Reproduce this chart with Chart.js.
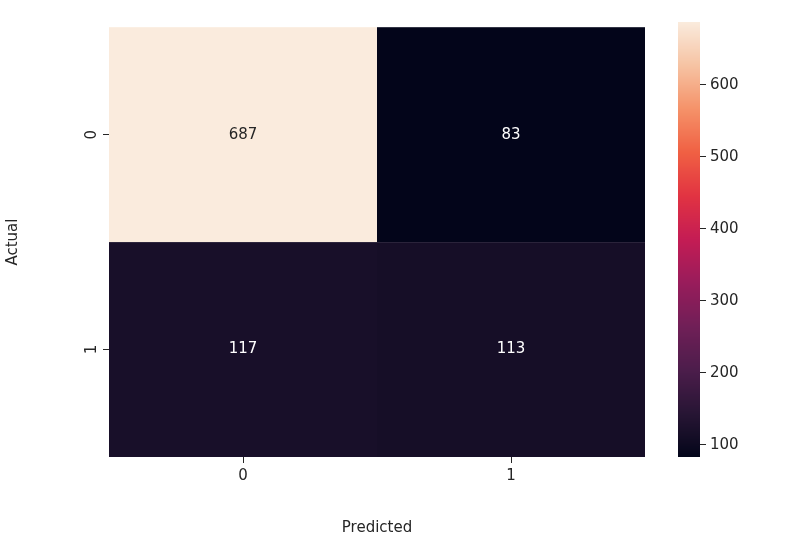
<!DOCTYPE html>
<html><head><meta charset="utf-8">
<script src="https://cdn.jsdelivr.net/npm/chart.js@4.4.0/dist/chart.umd.min.js"></script>
<style>
body{margin:0;background:#fff}
#wrap{position:relative;width:792px;height:541px}
canvas{position:absolute;left:0;top:0}
</style></head><body>
<div id="wrap"><canvas id="heat" width="792" height="541"></canvas><canvas id="bar" width="792" height="541"></canvas></div>
<script>
const predictedLabels = ['0', '1'];
const actualLabels = ['0', '1'];
const counts = [[687, 83], [117, 113]];
const barTicks = [100, 200, 300, 400, 500, 600];
const vmin = 83, vmax = 687;
const FONT = 'DejaVu Sans, sans-serif';

// approximate seaborn "rocket"
const rocket = [[0,3,5,26],[0.05,22,14,39],[0.1,39,21,52],[0.2,76,29,75],[0.3,112,31,87],[0.4,152,28,91],[0.5,196,28,84],[0.6,225,51,66],[0.7,240,96,67],[0.8,245,146,105],[0.9,246,195,163],[1,250,235,221]];
const colorAt = t => {
    t = Math.max(0, Math.min(1, t));
    for (let i = 1; i < rocket.length; i++) {
        if (t <= rocket[i][0]) {
            const a = rocket[i-1], b = rocket[i], f = (t - a[0]) / (b[0] - a[0]);
            return `rgb(${[1,2,3].map(k => Math.round(a[k] + (b[k]-a[k])*f)).join(',')})`;
        }
    }
    return 'rgb(250,235,221)';
};

const cells = [];
counts.forEach((row, r) => row.forEach((v, c) => cells.push({ x: c + 0.5, y: r + 0.5, v })));

const heatPlugin = {
    id: 'heat',
    beforeDatasetsDraw(chart) {
        const { ctx, scales: { x, y } } = chart;
        ctx.save();
        cells.forEach(p => {
            const x0 = x.getPixelForValue(p.x - 0.5), x1 = x.getPixelForValue(p.x + 0.5);
            const y0 = y.getPixelForValue(p.y - 0.5), y1 = y.getPixelForValue(p.y + 0.5);
            ctx.fillStyle = colorAt((p.v - vmin) / (vmax - vmin));
            ctx.fillRect(x0, y0, x1 - x0, y1 - y0);
            ctx.fillStyle = p.v > 400 ? '#262626' : '#ffffff';
            ctx.font = '15px ' + FONT;
            ctx.textAlign = 'center'; ctx.textBaseline = 'middle';
            ctx.fillText(String(p.v), x.getPixelForValue(p.x), y.getPixelForValue(p.y));
        });
        // rotated y tick labels
        ctx.fillStyle = '#262626';
        actualLabels.forEach((l, i) => {
            const py = y.getPixelForValue(i + 0.5);
            ctx.save();
            ctx.translate(92, py);
            ctx.rotate(-Math.PI / 2);
            ctx.fillText(l, 0, 0);
            ctx.restore();
        });
        ctx.restore();
    }
};

new Chart(document.getElementById('heat'), {
    type: 'scatter',
    data: { datasets: [{ data: cells, pointRadius: 0 }] },
    plugins: [heatPlugin],
    options: {
        responsive: false, animation: false,
        layout: { padding: { top: 22, right: 147, left: 0, bottom: 0 } },
        plugins: { legend: { display: false }, tooltip: { enabled: false } },
        scales: {
            x: {
                min: 0, max: 2,
                afterBuildTicks: s => { s.ticks = [{ value: 0.5 }, { value: 1.5 }]; },
                afterFit: s => { s.height = 84; },
                border: { display: false },
                grid: { drawOnChartArea: false, tickLength: 6, color: '#262626' },
                ticks: { callback: (v, i) => predictedLabels[i], color: '#262626', font: { family: FONT, size: 15 }, padding: 4 },
                title: { display: true, text: 'Predicted', color: '#262626', font: { family: FONT, size: 15 }, padding: { top: 6 } }
            },
            y: {
                min: 0, max: 2, reverse: true,
                afterBuildTicks: s => { s.ticks = [{ value: 0.5 }, { value: 1.5 }]; },
                afterFit: s => { s.width = 109; },
                border: { display: false },
                grid: { drawOnChartArea: false, tickLength: 6, color: '#262626' },
                ticks: { callback: () => '', padding: 20 },
                title: { display: true, text: 'Actual', color: '#262626', font: { family: FONT, size: 15 }, padding: { bottom: 12 } }
            }
        }
    }
});

const gradPlugin = {
    id: 'grad',
    beforeDatasetsDraw(chart) {
        const { ctx, chartArea: a, scales: { y } } = chart;
        for (let py = Math.floor(a.top); py < a.bottom; py++) {
            const v = y.getValueForPixel(py + 0.5);
            ctx.fillStyle = colorAt((v - vmin) / (vmax - vmin));
            ctx.fillRect(a.left, py, a.right - a.left, 1);
        }
    }
};

new Chart(document.getElementById('bar'), {
    type: 'scatter',
    data: { datasets: [{ data: [], pointRadius: 0 }] },
    plugins: [gradPlugin],
    options: {
        responsive: false, animation: false,
        layout: { padding: { top: 22, left: 678, right: 0, bottom: 84 } },
        plugins: { legend: { display: false }, tooltip: { enabled: false } },
        scales: {
            x: { display: false, min: 0, max: 1 },
            y: {
                position: 'right', min: vmin, max: vmax,
                afterBuildTicks: s => { s.ticks = barTicks.map(v => ({ value: v })); },
                afterFit: s => { s.width = 92; },
                border: { display: false },
                grid: { drawOnChartArea: false, tickLength: 6, color: '#262626' },
                ticks: { color: '#262626', font: { family: FONT, size: 15 }, padding: 4 }
            }
        }
    }
});
</script>
</body></html>
